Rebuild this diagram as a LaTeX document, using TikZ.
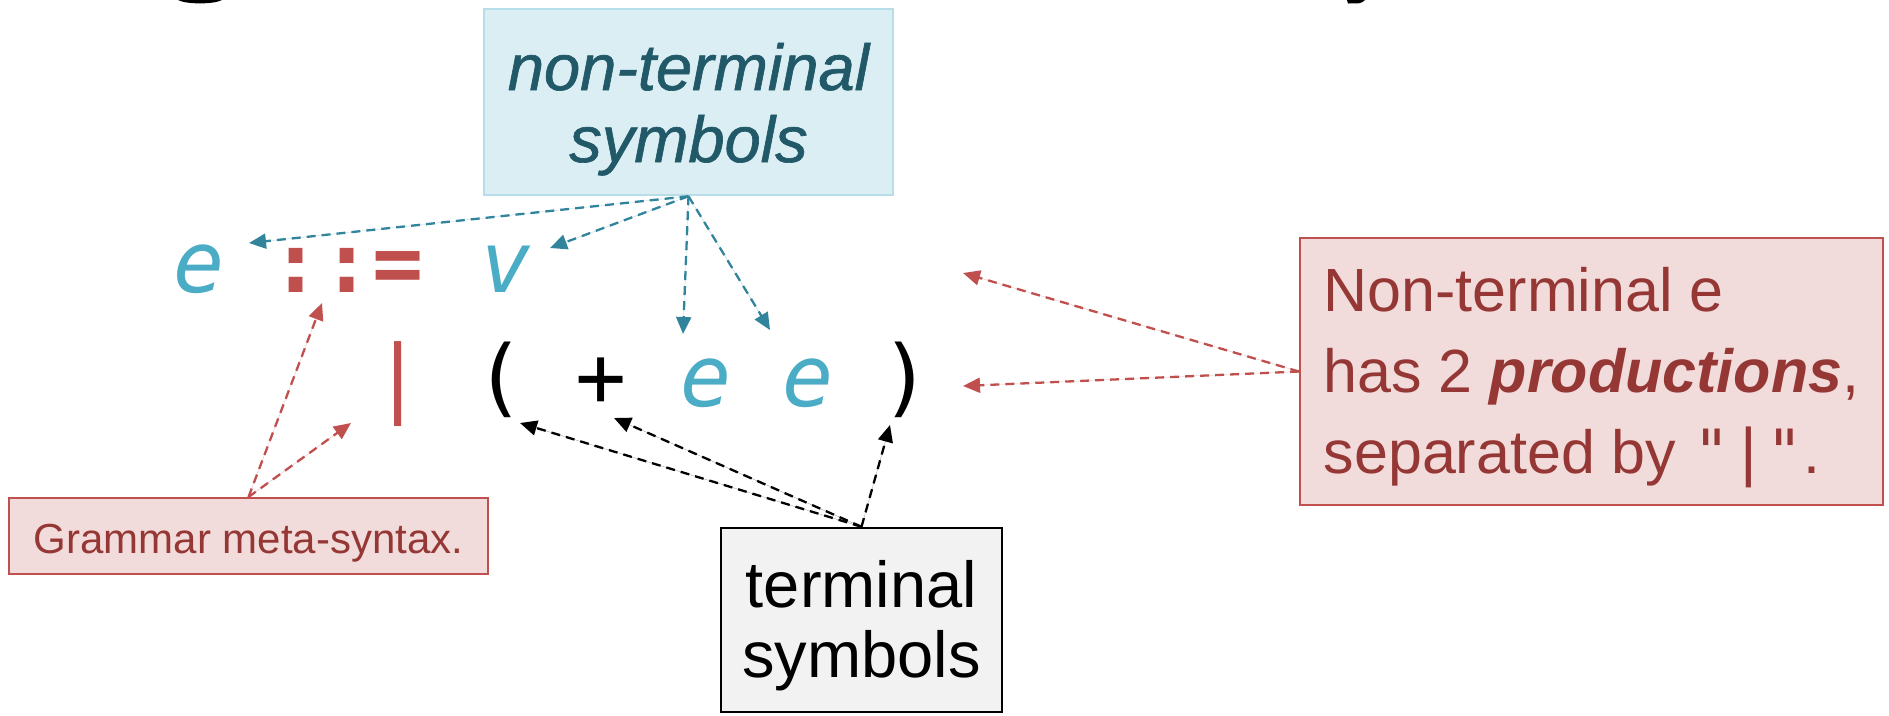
\documentclass[tikz,border=0pt]{standalone}
\usepackage{fontspec}
\setmainfont{Liberation Sans}
\newfontfamily\codefont{DejaVu Sans Mono}
\usetikzlibrary{arrows.meta}

\definecolor{ntfill}{HTML}{DBEEF4}
\definecolor{ntdraw}{HTML}{B7DEE8}
\definecolor{nttext}{HTML}{215968}
\definecolor{ntsym}{HTML}{4BACC6}
\definecolor{ntarrow}{HTML}{31849B}
\definecolor{metared}{HTML}{C0504D}
\definecolor{notetext}{HTML}{953735}
\definecolor{notefill}{HTML}{F2DCDB}
\definecolor{termfill}{HTML}{F2F2F2}

\newcommand\codesize{\fontsize{85pt}{85pt}\selectfont}

\begin{document}
\begin{tikzpicture}[x=1pt, y=-1pt,
  textbox/.style={rectangle, inner xsep=0pt, inner ysep=0pt, align=center},
  sym/.style={inner sep=0pt, anchor=base, font=\codefont\codesize},
  ntsymbol/.style={sym, text=ntsym, font=\codefont\codesize\itshape},
  metasym/.style={sym, text=metared, font=\codefont\codesize\bfseries},
  termsym/.style={sym, text=black},
  pointer/.style={line width=2.3pt, dash pattern=on 9pt off 6pt,
                  -{Triangle[length=17pt,width=15pt]}},
  ntpointer/.style={pointer, draw=ntarrow, fill=ntarrow},
  metapointer/.style={pointer, draw=metared, fill=metared},
  termpointer/.style={pointer, draw=black, fill=black}]

\useasboundingbox (0,0) rectangle (1889,715);

% descenders of the heading line above
\fill (178,0) .. controls (186,4.5) and (214,4.5) .. (222,0) -- cycle;
\fill (1347,0) -- (1365,0) .. controls (1361,3.5) .. (1348,3.5) -- cycle;

% callout boxes
\node[textbox, fill=ntfill, draw=ntdraw, line width=2.5pt, minimum width=409pt,
      text height=153pt, text depth=33pt, text=nttext,
      font=\fontsize{65pt}{72pt}\selectfont\itshape\addfontfeatures{FakeBold=1}]
  (nt) at (688.5,102) {non-terminal\\symbols};

\node[textbox, fill=termfill, draw=black, line width=2.5pt, minimum width=281pt,
      text height=149pt, text depth=35pt,
      font=\fontsize{65pt}{70pt}\selectfont]
  (term) at (861.5,620) {terminal\\symbols};

\node[textbox, fill=notefill, draw=metared, line width=2pt, minimum width=479pt,
      text height=55pt, text depth=21pt, text=notetext,
      font=\fontsize{42pt}{50pt}\selectfont]
  (gram) at (248.5,536) {Grammar meta-syntax.};

\node[textbox, align=left, fill=notefill, draw=metared, line width=2pt,
      minimum width=583pt, text height=235pt, text depth=32pt, text=notetext,
      font=\fontsize{61pt}{81pt}\selectfont]
  (note) at (1591.5,371.5)
  {Non-terminal e\\has 2 \textbf{\textit{productions}},\\separated by {\codefont"|"}.};

% the grammar rule, first production
\node[ntsymbol] (e1) at (199,292) {e};
\node[metasym]  (cc) at (321.5,292) {::};
\node[metasym]  (eq) at (398,292) {=};
\node[ntsymbol] (v)  at (506,292) {v};

% second production
\node[metasym, font=\codefont\codesize] (bar) at (398,406) {|};
\node[termsym]  (lp)   at (500,406) {(};
\node[termsym]  (plus) at (601,406) {+};
\node[ntsymbol] (e2)   at (706,406) {e};
\node[ntsymbol] (e3)   at (808,406) {e};
\node[termsym]  (rp)   at (906,406) {)};

% arrow tips
\coordinate (toE1)   at (249,243);
\coordinate (toV)    at (550,248);
\coordinate (toE2)   at (683,334);
\coordinate (toE3)   at (770,330);
\coordinate (toCC)   at (322,303);
\coordinate (toBar)  at (351,423);
\coordinate (toLp)   at (520,423);
\coordinate (toPlus) at (614,418);
\coordinate (toRp)   at (890,425);
\coordinate (toRow1) at (963,273);
\coordinate (toRow2) at (963,386);

% non-terminal pointers
\draw[ntpointer] (nt.south) -- (toE1);
\draw[ntpointer] (nt.south) -- (toV);
\draw[ntpointer] (nt.south) -- (toE2);
\draw[ntpointer] (nt.south) -- (toE3);

% meta-syntax pointers
\draw[metapointer] (gram.north) -- (toCC);
\draw[metapointer] (gram.north) -- (toBar);

% terminal pointers
\draw[termpointer] (term.north) -- (toLp);
\draw[termpointer] (term.north) -- (toPlus);
\draw[termpointer] (term.north) -- (toRp);

% production pointers
\draw[metapointer] (note.west) -- (toRow1);
\draw[metapointer] (note.west) -- (toRow2);
\end{tikzpicture}
\end{document}
